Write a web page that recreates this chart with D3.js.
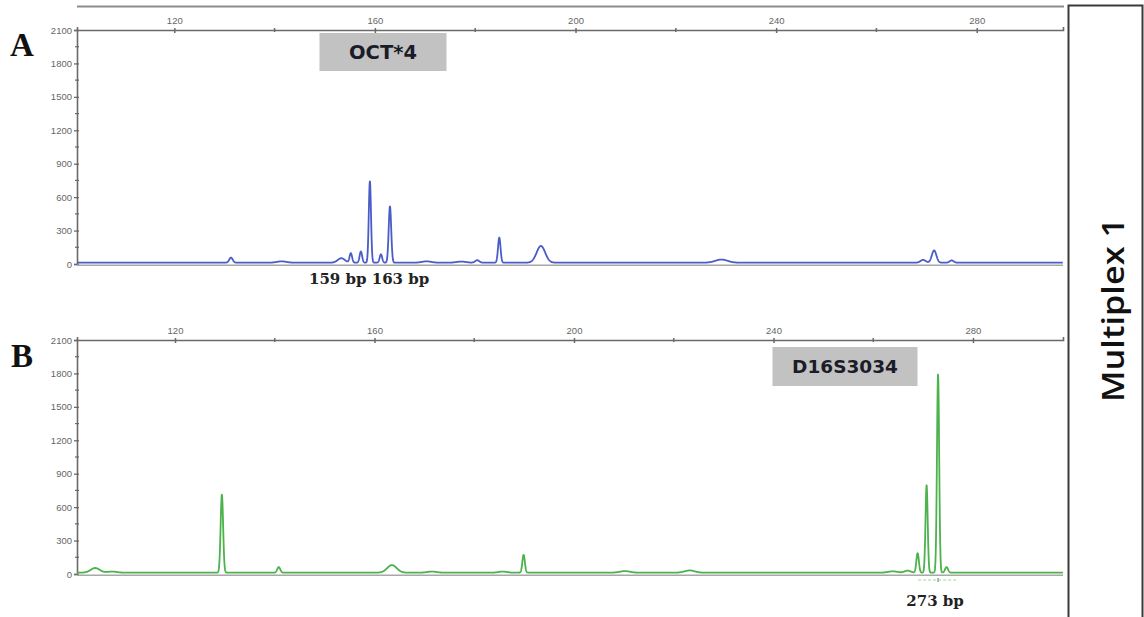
<!DOCTYPE html>
<html>
<head>
<meta charset="utf-8">
<script src="https://cdn.jsdelivr.net/npm/d3@7"></script>
<style>
  html, body { margin: 0; padding: 0; background: #fff; }
  svg { display: block; }
</style>
</head>
<body>
<svg id="chart" width="1144" height="617"></svg>
<script>
// Fragment size axis (bp) and fluorescence axis (RFU)
const bpTicks = [120, 160, 200, 240, 280];
const bpMinorTicks = [140, 180, 220, 260];
const rfuTicks = [0, 300, 600, 900, 1200, 1500, 1800, 2100];
const rfuMinorTicks = [150, 450, 750, 1050, 1350, 1650, 1950];

// Panel A – OCT*4 (blue dye): peak size (bp), height (RFU), spread (bp)
const peaksA_bp     = [131.3, 141.4, 153.3, 155.2, 157.2, 159.0, 161.2, 163.0, 170.3, 177.2, 180.4, 184.8, 193.1, 229.1, 269.3, 271.5, 275.0];
const peaksA_height = [   45,    12,    40,    85,   100,   730,    75,   505,    12,    10,    22,   225,   150,    28,    25,   110,    20];
const peaksA_width  = [ 0.35,   0.9,   0.7,  0.25,  0.25,  0.22,  0.25,  0.25,   0.9,   0.9,   0.4,  0.25,  0.85,   1.2,   0.5,  0.45,   0.4];

// Panel B – D16S3034 (green dye)
const peaksB_bp     = [104.0, 107.4, 129.4, 140.8, 163.5, 171.5, 185.7, 189.9, 210.2, 223.2, 263.9, 266.9, 268.9, 270.7, 273.0, 274.7];
const peaksB_height = [   42,    10,   700,    50,    68,    10,    10,   160,    14,    20,    12,    18,   175,   785,  1780,    50];
const peaksB_width  = [  0.9,   0.9,  0.25,  0.3,   0.95,   0.9,   0.8,  0.25,   1.0,   1.0,   0.9,   0.6,  0.25,  0.22,  0.22,   0.3];

const sizeLabelsA = ["159 bp", "163 bp"];
const sizeLabelsB = ["273 bp"];
const markerA = "OCT*4";
const markerB = "D16S3034";
const sideTitle = "Multiplex 1";

const svg = d3.select("#chart");

const axisColor = "#6a6a6a";
const labelFont = "'Liberation Sans', Arial, sans-serif";

function panel(cfg) {
  const g = svg.append("g");
  const x = d3.scaleLinear().domain(cfg.xDomain).range([77, 1063]);
  const y = d3.scaleLinear().domain([0, 2100]).range(cfg.yRange);

  // top size axis
  const xAxis = d3.axisTop(x).tickValues(bpTicks).tickSize(3).tickPadding(3).tickFormat(d3.format("d"));
  const xa = g.append("g").attr("transform", `translate(0,${y(2100)})`).call(xAxis);
  xa.select(".domain").attr("stroke", axisColor).attr("stroke-width", 1.6);
  xa.selectAll(".tick line").attr("stroke", axisColor).attr("y2", 3).attr("y1", -2).attr("stroke-width", 1.5);
  xa.selectAll(".tick text").attr("fill", "#666").style("font-family", labelFont).style("font-size", "9.5px");
  g.append("g").selectAll("line").data(bpMinorTicks).join("line")
    .attr("x1", d => x(d)).attr("x2", d => x(d))
    .attr("y1", y(2100) - 2).attr("y2", y(2100) + 2)
    .attr("stroke", axisColor).attr("stroke-width", 1.5);

  // left RFU axis
  const yAxis = d3.axisLeft(y).tickValues(rfuTicks).tickSize(3).tickPadding(2).tickFormat(d3.format("d"));
  const ya = g.append("g").attr("transform", "translate(77,0)").call(yAxis);
  ya.select(".domain").attr("stroke", axisColor).attr("stroke-width", 1.6);
  ya.selectAll(".tick line").attr("stroke", axisColor).attr("x1", 2).attr("stroke-width", 1.3);
  ya.selectAll(".tick text").attr("fill", "#666").style("font-family", labelFont).style("font-size", "9.5px");
  g.append("g").selectAll("line").data(rfuMinorTicks).join("line")
    .attr("x1", 75).attr("x2", 79)
    .attr("y1", d => y(d)).attr("y2", d => y(d))
    .attr("stroke", axisColor).attr("stroke-width", 1.2);

  // baseline
  g.append("line").attr("x1", 77).attr("x2", 1063)
    .attr("y1", y(0) + 1.2).attr("y2", y(0) + 1.2)
    .attr("stroke", "#a8a8a8").attr("stroke-width", 1.4);

  // electropherogram trace: sum of peak profiles on a low baseline
  const samples = d3.range(cfg.xDomain[0], cfg.xDomain[1], 0.04);
  const trace = samples.map(bp => {
    let v = 12;
    for (let i = 0; i < cfg.bp.length; i++) {
      const d = (bp - cfg.bp[i]) / cfg.width[i];
      v += cfg.height[i] * Math.exp(-0.5 * d * d);
    }
    return [bp, v];
  });
  const line = d3.line().x(d => x(d[0])).y(d => y(d[1]));
  g.append("path").datum(trace).attr("d", line)
    .attr("fill", "none").attr("stroke", cfg.color).attr("stroke-width", 1.8)
    .attr("stroke-linejoin", "round");

  return { g, x, y };
}

const A = panel({
  xDomain: [100.6, 297.2], yRange: [264, 30],
  bp: peaksA_bp, height: peaksA_height, width: peaksA_width, color: "#4a5cc8"
});
const B = panel({
  xDomain: [100.35, 298.05], yRange: [574, 340],
  bp: peaksB_bp, height: peaksB_height, width: peaksB_width, color: "#4cb24c"
});

// faint upper border of the run above panel A
svg.append("line").attr("x1", 77).attr("x2", 1064).attr("y1", 6.5).attr("y2", 6.5)
  .attr("stroke", "#8c8c8c").attr("stroke-width", 2);

// panel letters
svg.append("text").attr("x", 10).attr("y", 56).text("A")
  .style("font-family", "'Liberation Serif', 'Times New Roman', serif")
  .style("font-weight", "bold").style("font-size", "33px").attr("fill", "#111");
svg.append("text").attr("x", 11).attr("y", 367).text("B")
  .style("font-family", "'Liberation Serif', 'Times New Roman', serif")
  .style("font-weight", "bold").style("font-size", "33px").attr("fill", "#111");

// marker name boxes
function markerBox(cx, top, w, h, label, size) {
  svg.append("rect").attr("x", cx - w / 2).attr("y", top).attr("width", w).attr("height", h)
    .attr("fill", "#c2c2c2");
  svg.append("text").attr("x", cx).attr("y", top + h / 2 + size * 0.36).attr("text-anchor", "middle")
    .text(label)
    .style("font-family", "'DejaVu Sans', Verdana, sans-serif").style("font-weight", "bold")
    .style("font-size", size + "px").attr("fill", "#1c1c28");
}
markerBox(383, 33, 127, 38, markerA, 19.5);
markerBox(845, 347, 145, 39, markerB, 18.5);

// allele size labels
const sizeFont = "'DejaVu Serif', 'Liberation Serif', serif";
svg.append("text").attr("x", 309).attr("y", 284).text(sizeLabelsA[0] + " " + sizeLabelsA[1])
  .style("font-family", sizeFont).style("font-weight", "bold").style("font-size", "15px").attr("fill", "#222");
svg.append("text").attr("x", B.x(273) - 3).attr("y", 606).attr("text-anchor", "middle").text(sizeLabelsB[0])
  .style("font-family", sizeFont).style("font-weight", "bold").style("font-size", "15px").attr("fill", "#222");

// bin bracket under the 273 bp allele
svg.append("line").attr("x1", B.x(269)).attr("x2", B.x(276.8)).attr("y1", 580).attr("y2", 580)
  .attr("stroke", "#9ed39e").attr("stroke-width", 1.2).attr("stroke-dasharray", "3,2");
svg.append("line").attr("x1", B.x(273)).attr("x2", B.x(273)).attr("y1", 578).attr("y2", 582)
  .attr("stroke", "#7cbf7c").attr("stroke-width", 1.5);

// side title box
svg.append("rect").attr("x", 1068.5).attr("y", 5.5).attr("width", 74).attr("height", 620)
  .attr("fill", "#fff").attr("stroke", "#3a3a3a").attr("stroke-width", 2);
svg.append("text").attr("transform", "translate(1124,310) rotate(-90)")
  .attr("text-anchor", "middle").text(sideTitle)
  .attr("textLength", 184).attr("lengthAdjust", "spacingAndGlyphs")
  .style("font-family", "'Open Sans', Lato, sans-serif").style("font-weight", "600")
  .style("font-size", "30px").attr("fill", "#111");
</script>
</body>
</html>
